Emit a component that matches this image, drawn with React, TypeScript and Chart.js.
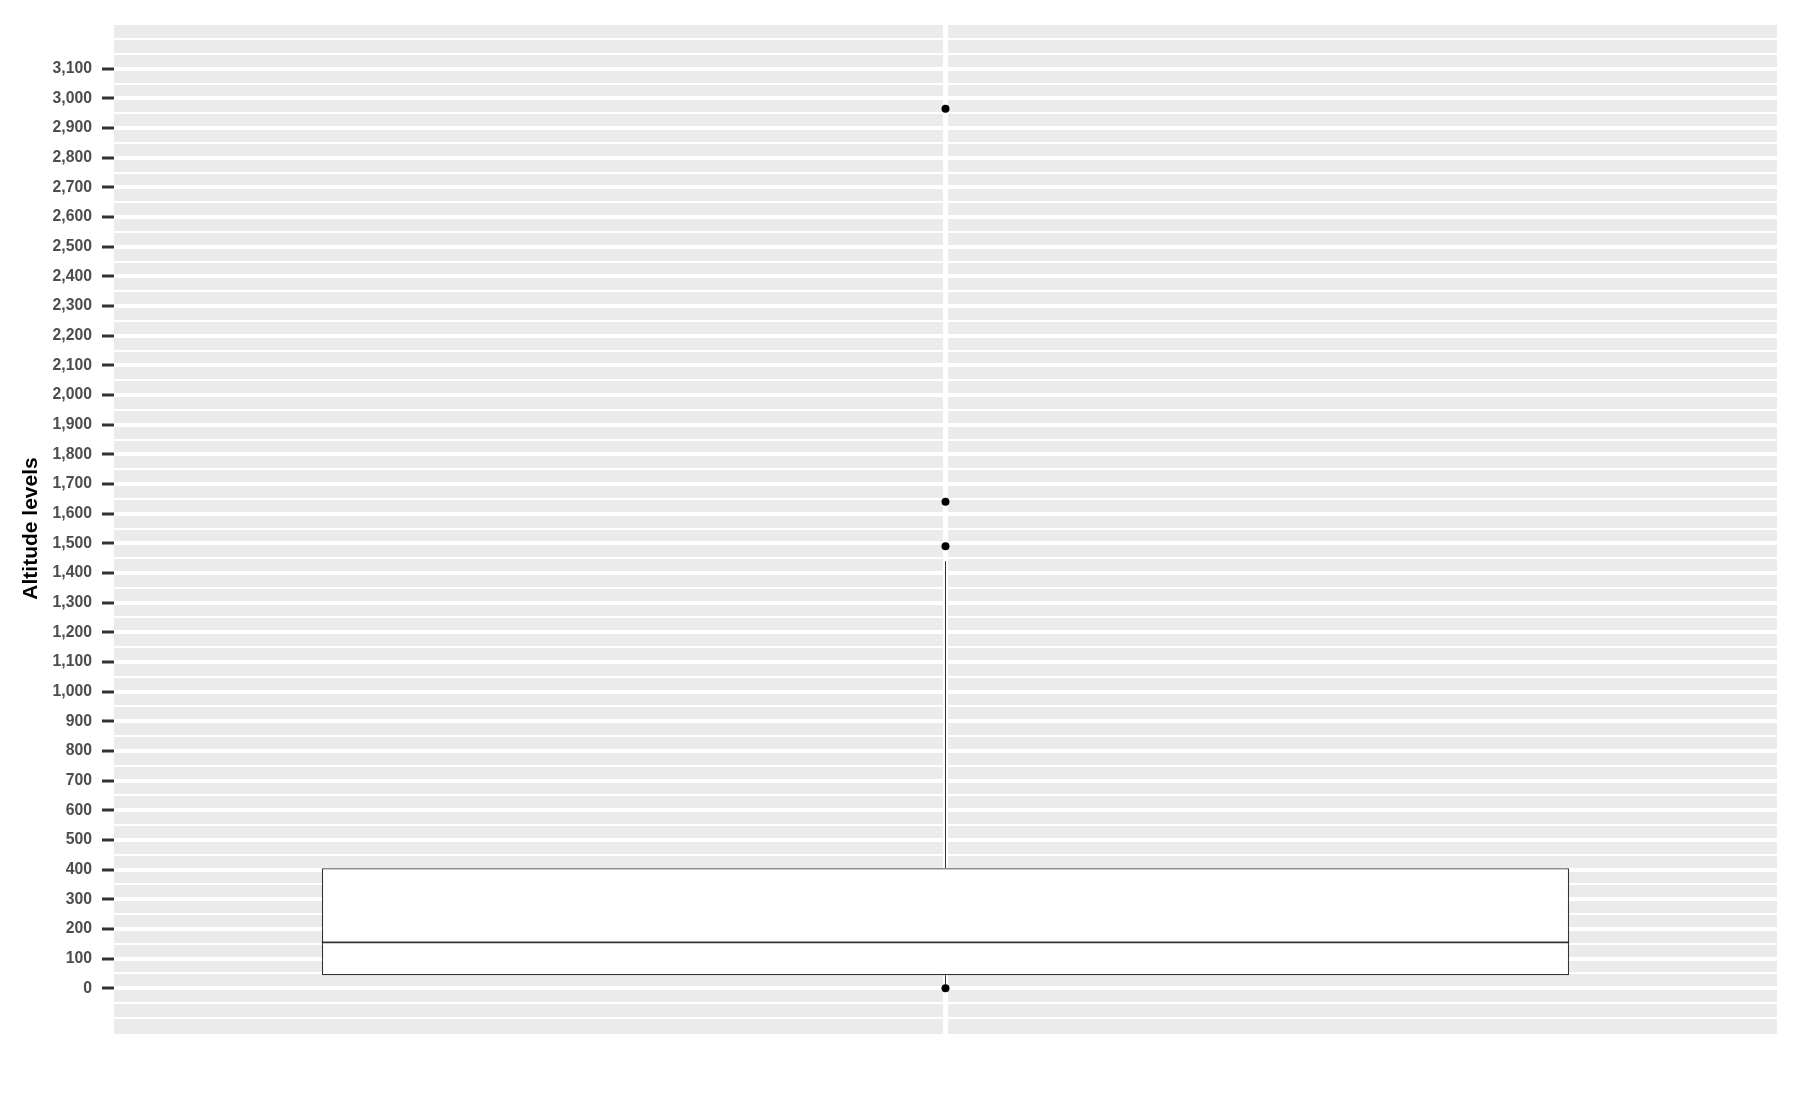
import React, { useEffect, useRef } from "react";
import { Chart, registerables } from "chart.js";

Chart.register(...registerables);

// ---- data ----
const categories = ["Altitude"];
const q1Values = [44];
const medianValues = [155];
const q3Values = [405];
const whiskerLowValues = [0];
const whiskerHighValues = [1440];
const outlierValues = [2965, 1640, 1490, 0];
const yMin = -154;
const yMax = 3254;
const majorTickMin = 0;
const majorTickMax = 3100;

const FONT = "'Liberation Sans', Arial, Helvetica, sans-serif";

const isMajor = (v: number) =>
  Math.abs(v % 100) < 1e-6 && v >= majorTickMin && v <= majorTickMax;

const boxPlugin = {
  id: "boxExtras",
  beforeDraw(chart: any) {
    const { ctx, chartArea } = chart;
    ctx.save();
    ctx.fillStyle = "#EBEBEB";
    ctx.fillRect(
      chartArea.left,
      chartArea.top,
      chartArea.right - chartArea.left,
      chartArea.bottom - chartArea.top
    );
    ctx.restore();
  },
  afterDatasetDraw(chart: any, args: any) {
    if (args.index !== 0) return;
    const { ctx } = chart;
    const yScale = chart.scales.y;
    const meta = chart.getDatasetMeta(0);
    meta.data.forEach((el: any, i: number) => {
      const { x, width } = el.getProps(["x", "width"], true);
      const left = x - width / 2;
      const right = x + width / 2;
      const yQ1 = yScale.getPixelForValue(q1Values[i]);
      const yQ3 = yScale.getPixelForValue(q3Values[i]);
      const yMed = yScale.getPixelForValue(medianValues[i]);
      const yLo = yScale.getPixelForValue(whiskerLowValues[i]);
      const yHi = yScale.getPixelForValue(whiskerHighValues[i]);
      ctx.save();
      ctx.strokeStyle = "#333333";
      ctx.lineWidth = 1;
      ctx.beginPath();
      ctx.moveTo(x, yQ3);
      ctx.lineTo(x, yHi);
      ctx.moveTo(x, yQ1);
      ctx.lineTo(x, yLo);
      ctx.stroke();
      ctx.lineWidth = 1.8;
      ctx.beginPath();
      ctx.moveTo(left, yMed);
      ctx.lineTo(right, yMed);
      ctx.stroke();
      ctx.restore();
    });
  },
};

export default function App() {
  const canvasRef = useRef<HTMLCanvasElement | null>(null);

  useEffect(() => {
    document.body.style.margin = "0";
    const canvas = canvasRef.current;
    if (!canvas) return;
    const chart = new Chart(canvas, {
      type: "bar",
      data: {
        labels: categories,
        datasets: [
          {
            type: "bar",
            data: categories.map((_, i) => [q1Values[i], q3Values[i]]) as any,
            backgroundColor: "#FFFFFF",
            borderColor: "#333333",
            borderWidth: 1.3,
            borderSkipped: false,
            barPercentage: 0.75,
            categoryPercentage: 1.0,
            order: 1,
          } as any,
          {
            type: "line",
            data: outlierValues.map((v) => ({ x: categories[0], y: v })) as any,
            showLine: false,
            pointRadius: 4,
            pointBackgroundColor: "#000000",
            pointBorderWidth: 0,
            pointHoverRadius: 4,
            order: 0,
          } as any,
        ],
      },
      options: {
        responsive: false,
        animation: false,
        events: [],
        layout: { padding: { left: 0, right: 23, top: 23, bottom: 79 } },
        plugins: {
          legend: { display: false },
          tooltip: { enabled: false },
        },
        scales: {
          x: {
            type: "category",
            offset: true,
            border: { display: false },
            grid: {
              offset: false,
              color: "#FFFFFF",
              lineWidth: 5,
              drawTicks: false,
            },
            ticks: { display: false },
            afterFit: (scale: any) => {
              scale.height = 0;
            },
          },
          y: {
            type: "linear",
            min: yMin,
            max: yMax,
            border: { display: false },
            grid: {
              color: (ctx: any) =>
                ctx.tick && ctx.tick.value < -100 ? "rgba(0,0,0,0)" : "#FFFFFF",
              lineWidth: (ctx: any) => (ctx.tick && isMajor(ctx.tick.value) ? 4 : 2),
              drawTicks: true,
              tickLength: 12,
              tickWidth: (ctx: any) => (ctx.tick && isMajor(ctx.tick.value) ? 3 : 0),
              tickColor: (ctx: any) =>
                ctx.tick && isMajor(ctx.tick.value) ? "#333333" : "rgba(0,0,0,0)",
            },
            ticks: {
              stepSize: 50,
              includeBounds: false,
              autoSkip: false,
              padding: 10,
              color: "#4D4D4D",
              font: { family: FONT, size: 15.75, weight: "bold" },
              callback: (value: any) =>
                isMajor(Number(value)) ? Number(value).toLocaleString("en-US") : "",
            },
            title: {
              display: true,
              text: "Altitude levels",
              color: "#000000",
              font: { family: FONT, size: 21, weight: "bold" },
              padding: { top: 19, bottom: 0 },
            },
            afterFit: (scale: any) => {
              scale.width = 114;
            },
          },
        },
      } as any,
      plugins: [boxPlugin as any],
    });
    return () => chart.destroy();
  }, []);

  return (
    <div style={{ width: 1800, height: 1113 }}>
      <canvas
        ref={canvasRef}
        width={1800}
        height={1113}
        style={{ display: "block", width: 1800, height: 1113 }}
      />
    </div>
  );
}
